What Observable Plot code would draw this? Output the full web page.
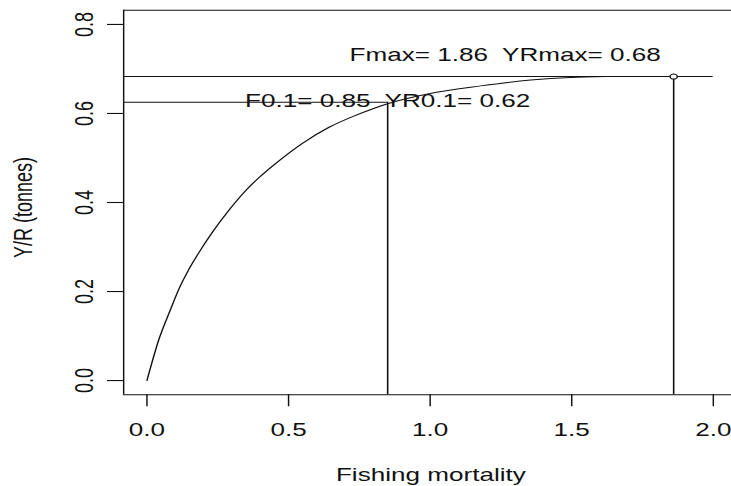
<!DOCTYPE html>
<html>
<head>
<meta charset="utf-8">
<script src="https://cdn.jsdelivr.net/npm/d3@7"></script>
<script src="https://cdn.jsdelivr.net/npm/@observablehq/plot@0.6"></script>
<style>
  html, body { margin: 0; padding: 0; background: white; overflow: hidden; }
  svg text { white-space: pre; }
</style>
</head>
<body>
<div id="chart"></div>
<script>
// Yield-per-recruit curve
const fishingMortality = [0, 0.043, 0.084, 0.113, 0.149, 0.184, 0.231, 0.290, 0.349, 0.396, 0.455, 0.549, 0.643, 0.726, 0.808, 0.85, 1.0, 1.179, 1.355, 1.496, 1.62];
const yieldPerRecruit  = [0, 0.094, 0.161, 0.206, 0.251, 0.288, 0.333, 0.383, 0.427, 0.456, 0.488, 0.533, 0.569, 0.593, 0.613, 0.622, 0.645, 0.662, 0.675, 0.681, 0.683];

// Reference points: F0.1 and Fmax
const refNames = ["F0.1", "Fmax"];
const refF  = [0.85, 1.86];
const refYR = [0.625, 0.683];
const refLineEnd = [0.85, 2.0];   // where each horizontal reference line stops

// Annotations
const annText = ["Fmax= 1.86  YRmax= 0.68", "F0.1= 0.85  YR0.1= 0.62"];
const annF = [1.265, 0.85];
const annY = [0.73, 0.628];

// Axes
const xTicks = [0, 0.5, 1.0, 1.5, 2.0];
const yTicks = [0, 0.2, 0.4, 0.6, 0.8];
const xLabel = "Fishing mortality";
const yLabel = "Y/R (tonnes)";
const xDomain = [-0.0823, 2.065];
const yDomain = [-0.032, 0.832];

const curve = fishingMortality.map((f, i) => ({F: f, YR: yieldPerRecruit[i]}));
const refs = refNames.map((n, i) => ({name: n, F: refF[i], YR: refYR[i], x1: xDomain[0], x2: refLineEnd[i]}));
const anns = annText.map((t, i) => ({text: t, F: annF[i], YR: annY[i]}));

const W = 504, H = 486;      // drawing units; stretched horizontally to 731 px like the reference
const ink = "#111";

const svg = Plot.plot({
  width: W, height: H,
  marginLeft: 84.76, marginRight: 0, marginTop: 9.7, marginBottom: 91.7,
  style: {fontFamily: "'Liberation Sans', Arial, sans-serif", color: ink, background: "white",
          width: "731px", height: "486px", maxWidth: "none", overflow: "hidden"},
  x: {domain: xDomain},
  y: {domain: yDomain},
  marks: [
    // box (right side falls outside the picture)
    Plot.ruleY([yDomain[0], yDomain[1]], {stroke: ink, strokeWidth: 1.1}),
    Plot.ruleX([xDomain[0]], {stroke: ink, strokeWidth: 1}),
    Plot.axisX({ticks: xTicks, tickSize: 12, tickPadding: 16, tickFormat: d => d.toFixed(1),
                fontSize: 18, label: null, stroke: ink, strokeWidth: 1}),
    Plot.axisY({ticks: yTicks, tickSize: 11, tickFormat: () => "", label: null, stroke: ink, strokeWidth: 1.1}),
    Plot.text(yTicks, {y: d => d, text: d => d.toFixed(1), frameAnchor: "left", rotate: -90,
                       textAnchor: "middle", lineAnchor: "bottom", dx: -20.8, fontSize: 18, fill: ink}),
    Plot.text([yLabel], {frameAnchor: "left", rotate: -90, textAnchor: "middle", lineAnchor: "bottom",
                         dx: -62.9, dy: 5, fontSize: 18, fill: ink}),
    Plot.text([xLabel], {frameAnchor: "bottom", textAnchor: "middle", lineAnchor: "bottom",
                         dx: 2.2, dy: 85.7, fontSize: 18, fill: ink}),
    // reference lines
    Plot.ruleY(refs, {y: "YR", x1: "x1", x2: "x2", stroke: ink, strokeWidth: 1}),
    Plot.ruleX(refs, {x: "F", y1: () => yDomain[0], y2: "YR", stroke: ink, strokeWidth: 1.1}),
    // curve
    Plot.line(curve, {x: "F", y: "YR", stroke: ink, strokeWidth: 1, curve: "monotone-x"}),
    // Fmax point
    Plot.dot(refs.filter(d => d.name === "Fmax"), {x: "F", y: "YR", r: 2.5, stroke: ink, fill: "white", strokeWidth: 1}),
    // annotations
    Plot.text(anns, {x: "F", y: "YR", text: "text", textAnchor: "middle", lineAnchor: "middle", fontSize: 18, fill: ink})
  ]
});

svg.setAttribute("width", 731);
svg.setAttribute("height", 486);
svg.setAttribute("preserveAspectRatio", "none");
document.getElementById("chart").appendChild(svg);
</script>
</body>
</html>
